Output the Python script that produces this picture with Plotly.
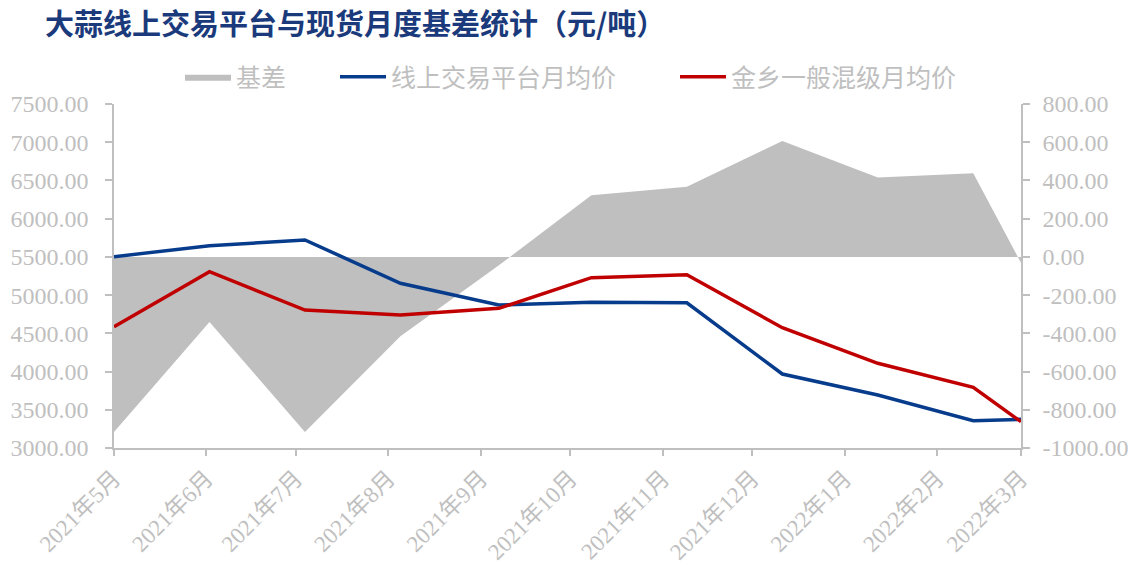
import plotly.graph_objects as go

# ---- data ----
dates = ['2021-05-01', '2021-06-02', '2021-07-04', '2021-08-05', '2021-09-07',
         '2021-10-08', '2021-11-09', '2021-12-11', '2022-01-12', '2022-02-13',
         '2022-03-01']
online_price = [5503, 5647, 5721, 5155, 4871, 4906, 4900, 3968, 3693, 3357, 3375]
jinxiang_price = [4587, 5306, 4805, 4740, 4827, 5228, 5267, 4574, 4108, 3794, 3344]
basis = [-916, -341, -916, -415, -44, 322, 367, 606, 415, 437, -31]

month_ticks = ['2021-05-01', '2021-06-01', '2021-07-01', '2021-08-01', '2021-09-01',
               '2021-10-01', '2021-11-01', '2021-12-01', '2022-01-01', '2022-02-01',
               '2022-03-01']
month_labels = ['2021年5月', '2021年6月', '2021年7月', '2021年8月', '2021年9月',
                '2021年10月', '2021年11月', '2021年12月', '2022年1月', '2022年2月',
                '2022年3月']
left_ticks = [3000, 3500, 4000, 4500, 5000, 5500, 6000, 6500, 7000, 7500]
right_ticks = [-1000, -800, -600, -400, -200, 0, 200, 400, 600, 800]

names = ['基差', '线上交易平台月均价', '金乡一般混级月均价']
title_text = '大蒜线上交易平台与现货月度基差统计（元/吨）'

# ---- styles ----
GRAY_TXT = '#bfbfbf'
AXIS_COL = '#bfbfbf'
SERIF = 'Liberation Serif, Noto Sans CJK SC, serif'
CJK = 'Noto Sans CJK SC, sans-serif'

W, H = 1131, 565
PL, PR, PT, PB = 114, 1021, 104, 448  # plot area in pixels
PW, PH = PR - PL, PB - PT

fig = go.Figure()

fig.add_trace(go.Scatter(
    x=dates, y=basis, name=names[0], mode='lines', fill='tozeroy',
    fillcolor='#bfbfbf', line=dict(width=0, color='#bfbfbf'), yaxis='y',
    legend='legend'))
fig.add_trace(go.Scatter(
    x=dates, y=online_price, name=names[1], mode='lines',
    line=dict(color='#073c8c', width=3.5), yaxis='y2', legend='legend2'))
fig.add_trace(go.Scatter(
    x=dates, y=jinxiang_price, name=names[2], mode='lines',
    line=dict(color='#c00000', width=3.5), yaxis='y2', legend='legend3'))


def leg(sym_x):
    return dict(orientation='h', x=(sym_x - 5 - PL) / PW, xanchor='left',
                y=(PB - 77) / PH, yanchor='middle',
                font=dict(family=CJK, size=25, color=GRAY_TXT),
                bgcolor='rgba(0,0,0,0)', itemwidth=46)


fig.update_layout(
    width=W, height=H,
    paper_bgcolor='white', plot_bgcolor='white',
    margin=dict(l=PL, r=W - PR, t=PT, b=H - PB, autoexpand=False),
    title=dict(text='<b>' + title_text + '</b>', x=45 / W, xanchor='left',
               y=1 - 25 / H, yanchor='middle',
               font=dict(family=CJK, size=29, color='#1a3a7c')),
    showlegend=True,
    legend=leg(185),
    legend2=leg(340),
    legend3=leg(680),
    xaxis=dict(type='date', range=['2021-05-01', '2022-03-01'],
               tickvals=month_ticks, ticktext=month_labels, tickangle=-45,
               showgrid=False, showline=True, linecolor=AXIS_COL, linewidth=1.5,
               ticks='outside', ticklen=6, tickcolor=AXIS_COL, tickwidth=1.5,
               tickfont=dict(family=SERIF, size=23, color=GRAY_TXT),
               automargin=False, zeroline=False),
    yaxis=dict(side='right', range=[-1000, 800], tickvals=right_ticks,
               ticktext=[f'{v:.2f}' for v in right_ticks],
               showgrid=False, zeroline=False, showline=True,
               linecolor=AXIS_COL, linewidth=1.5, ticks='outside', ticklen=7,
               tickcolor=AXIS_COL, tickwidth=1.5, ticklabelstandoff=8,
               tickfont=dict(family=SERIF, size=24, color=GRAY_TXT),
               automargin=False),
    yaxis2=dict(side='left', overlaying='y', range=[3000, 7500],
                tickvals=left_ticks, ticktext=[f'{v:.2f}' for v in left_ticks],
                showgrid=False, zeroline=False, showline=True,
                linecolor=AXIS_COL, linewidth=1.5, ticks='outside', ticklen=7,
                tickcolor=AXIS_COL, tickwidth=1.5, ticklabelstandoff=12,
                tickfont=dict(family=SERIF, size=24, color=GRAY_TXT),
                automargin=False),
)

# remove the page's default body margin so the figure sits at the window origin
fig.write_html('out.html', config={'displayModeBar': False},
               post_script="document.body.style.margin='0';")
